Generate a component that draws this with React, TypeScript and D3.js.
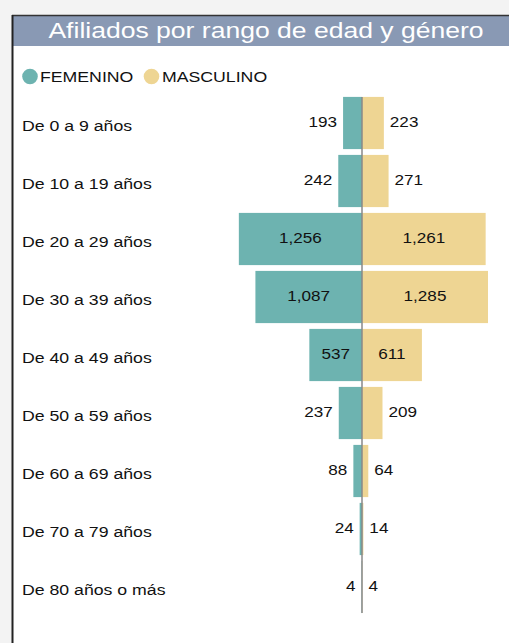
import { useEffect, useRef } from 'react';
import * as d3 from 'd3';

const categories = [
  'De 0 a 9 años',
  'De 10 a 19 años',
  'De 20 a 29 años',
  'De 30 a 39 años',
  'De 40 a 49 años',
  'De 50 a 59 años',
  'De 60 a 69 años',
  'De 70 a 79 años',
  'De 80 años o más',
];
const femenino = [193, 242, 1256, 1087, 537, 237, 88, 24, 4];
const masculino = [223, 271, 1261, 1285, 611, 209, 64, 14, 4];
const seriesNames = ['FEMENINO', 'MASCULINO'];

const W = 509;
const H = 643;
const FONT = '"Liberation Sans", Arial, sans-serif';
const TEAL = '#6db3b0';
const SAND = '#eed593';
const SX = 1.18; // the reference type is a little wide

export default function App() {
  const svgRef = useRef<SVGSVGElement | null>(null);

  useEffect(() => {
    if (!svgRef.current) return;
    const svg = d3.select(svgRef.current);
    svg.selectAll('*').remove();

    const addText = (parent: any, x: number, y: number, size: number, txt: string, anchor = 'start', fill = '#111') =>
      parent.append('text')
        .attr('transform', `translate(${x},${y}) scale(${SX},1)`)
        .attr('text-anchor', anchor)
        .attr('fill', fill)
        .style('font-family', FONT)
        .style('font-size', `${size}px`)
        .text(txt);

    // page + panel
    svg.append('rect').attr('width', W).attr('height', H).attr('fill', '#f3f3f3');
    svg.append('rect').attr('x', 12).attr('y', 15).attr('width', W - 12).attr('height', H - 15).attr('fill', '#fff');
    svg.append('rect').attr('x', 13).attr('y', 16).attr('width', W - 13).attr('height', 30).attr('fill', '#8999b4');
    svg.append('line').attr('x1', 12).attr('x2', W).attr('y1', 15.5).attr('y2', 15.5).attr('stroke', '#333').attr('stroke-width', 1.5);
    svg.append('line').attr('x1', 12.5).attr('x2', 12.5).attr('y1', 15).attr('y2', H).attr('stroke', '#222').attr('stroke-width', 2);

    addText(svg, 266, 38, 22.5, 'Afiliados por rango de edad y género', 'middle', '#fff');

    // legend
    const legend = svg.append('g');
    [[30, 40], [151.5, 162]].forEach(([cx, tx], i) => {
      legend.append('circle').attr('cx', cx).attr('cy', 76.5).attr('r', 7.8).attr('fill', i === 0 ? TEAL : SAND);
      addText(legend, tx, 82, 15, seriesNames[i]);
    });

    const cx = 362;
    const y = d3.scaleBand<string>().domain(categories).range([94, 616]).paddingInner(0.1).paddingOuter(0.05);
    const x = d3.scaleLinear().domain([0, 1285]).range([0, 126]);
    const fmt = d3.format(',');
    const bw = y.bandwidth();

    const rows = svg.append('g').selectAll('g')
      .data(categories)
      .enter()
      .append('g')
      .attr('transform', d => `translate(0,${y(d)})`);

    rows.each(function (d, i) {
      const g = d3.select(this);
      addText(g, 22, bw / 2 + 8, 15, d);

      const wf = x(femenino[i]);
      const wm = x(masculino[i]);
      g.append('rect').attr('x', cx - wf).attr('width', wf).attr('height', bw).attr('fill', TEAL);
      g.append('rect').attr('x', cx).attr('width', wm).attr('height', bw).attr('fill', SAND);

      // value labels: inside when the bar is wide enough, otherwise outside
      if (wf > 40) addText(g, cx - wf / 2, bw / 2 + 4, 14.5, fmt(femenino[i]), 'middle');
      else addText(g, cx - wf - 6, bw / 2 + 4, 14.5, fmt(femenino[i]), 'end');
      if (wm > 40) addText(g, cx + wm / 2, bw / 2 + 4, 14.5, fmt(masculino[i]), 'middle');
      else addText(g, cx + wm + 6, bw / 2 + 4, 14.5, fmt(masculino[i]), 'start');
    });

    // center axis
    const yTop = y(categories[0]) as number;
    const yBot = (y(categories[categories.length - 1]) as number) + bw;
    svg.append('line')
      .attr('x1', cx).attr('x2', cx)
      .attr('y1', yTop).attr('y2', yBot)
      .attr('stroke', '#888').attr('stroke-width', 1.5);
  }, []);

  return (
    <div style={{ position: 'absolute', left: 0, top: 0 }}>
      <svg ref={svgRef} width={W} height={H} style={{ display: 'block' }} />
    </div>
  );
}
